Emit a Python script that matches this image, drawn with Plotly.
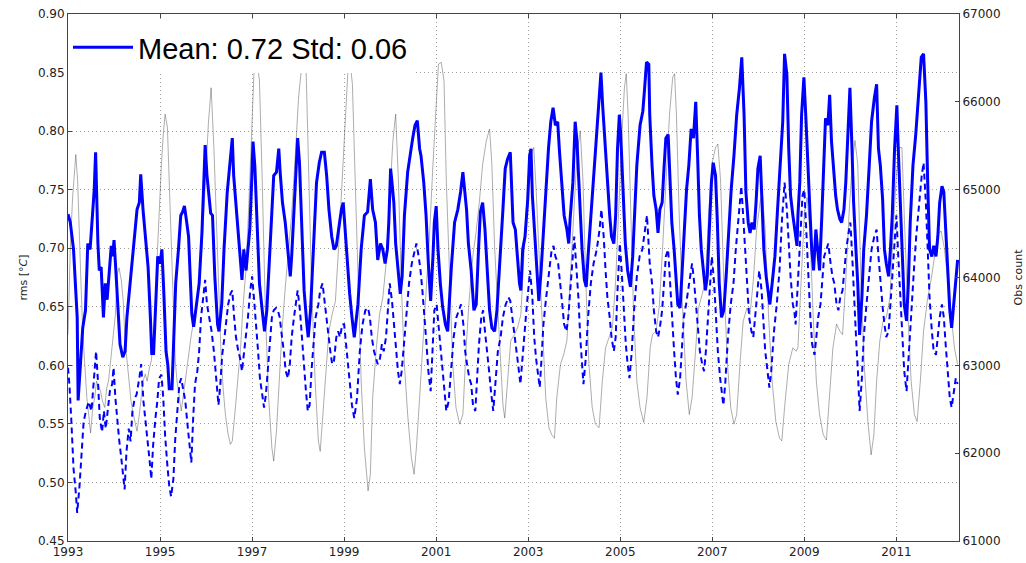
import plotly.graph_objects as go

# ---- rms (solid) ----
solid_t = [1993.00,1993.05,1993.12,1993.16,1993.20,1993.22,1993.27,1993.32,1993.38,1993.43,1993.48,1993.54,1993.57,1993.60,1993.62,1993.65,1993.68,1993.72,1993.77,1993.81,1993.85,1993.90,1993.94,1993.97,
1994.00,1994.04,1994.08,1994.13,1994.19,1994.24,1994.28,1994.35,1994.43,1994.50,1994.55,1994.58,1994.63,1994.68,1994.74,1994.79,1994.82,1994.86,1994.90,1994.95,
1995.00,1995.04,1995.08,1995.13,1995.17,1995.20,1995.26,1995.30,1995.34,1995.40,1995.45,1995.49,1995.53,1995.58,1995.62,1995.65,1995.69,1995.73,1995.80,1995.85,1995.91,1995.98,
1996.02,1996.05,1996.10,1996.14,1996.19,1996.25,1996.28,1996.34,1996.39,1996.46,1996.51,1996.57,1996.60,1996.65,1996.70,1996.75,1996.78,1996.82,1996.87,1996.91,1996.95,1996.99,
1997.02,1997.06,1997.11,1997.16,1997.22,1997.27,1997.32,1997.40,1997.47,1997.53,1997.58,1997.61,1997.66,1997.72,1997.78,1997.83,1997.86,1997.90,1997.95,1997.99,
1998.03,1998.08,1998.13,1998.19,1998.22,1998.27,1998.33,1998.40,1998.46,1998.51,1998.57,1998.62,1998.67,1998.73,1998.78,1998.83,1998.88,1998.94,1998.98,
1999.01,1999.07,1999.12,1999.17,1999.22,1999.30,1999.37,1999.44,1999.51,1999.57,1999.62,1999.68,1999.73,1999.79,1999.84,1999.89,1999.94,1999.97,
2000.01,2000.04,2000.08,2000.12,2000.17,2000.22,2000.26,2000.31,2000.38,2000.44,2000.49,2000.54,2000.59,2000.64,2000.67,2000.73,2000.78,2000.83,2000.88,2000.93,2000.96,
2001.00,2001.04,2001.09,2001.14,2001.20,2001.25,2001.33,2001.40,2001.47,2001.53,2001.58,2001.62,2001.66,2001.70,2001.76,2001.82,2001.87,2001.92,2001.96,
2002.01,2002.06,2002.11,2002.16,2002.21,2002.27,2002.32,2002.37,2002.40,2002.45,2002.50,2002.55,2002.61,2002.67,2002.72,2002.77,2002.81,2002.84,2002.88,2002.93,2002.99,
2003.03,2003.06,2003.09,2003.14,2003.19,2003.23,2003.28,2003.33,2003.38,2003.44,2003.49,2003.54,2003.59,2003.64,2003.68,2003.73,2003.78,2003.84,2003.88,2003.91,2003.97,
2004.02,2004.06,2004.09,2004.13,2004.17,2004.22,2004.26,2004.30,2004.36,2004.42,2004.48,2004.53,2004.58,2004.62,2004.67,2004.72,2004.77,2004.81,2004.86,2004.90,2004.94,2004.98,
2005.01,2005.06,2005.11,2005.16,2005.22,2005.27,2005.31,2005.36,2005.43,2005.49,2005.53,2005.57,2005.62,2005.64,2005.69,2005.73,2005.78,2005.82,2005.86,2005.91,2005.95,2005.99,
2006.04,2006.08,2006.12,2006.17,2006.21,2006.25,2006.30,2006.34,2006.39,2006.44,2006.49,2006.54,2006.59,2006.64,2006.68,2006.72,2006.76,2006.80,2006.85,2006.89,2006.93,2006.98,
2007.02,2007.07,2007.11,2007.15,2007.20,2007.25,2007.30,2007.36,2007.41,2007.47,2007.53,2007.59,2007.64,2007.69,2007.73,2007.78,2007.82,2007.86,2007.91,2007.95,2007.99,
2008.04,2008.08,2008.12,2008.17,2008.21,2008.25,2008.30,2008.36,2008.41,2008.47,2008.53,2008.57,2008.62,2008.66,2008.70,2008.75,2008.80,2008.84,2008.86,2008.90,2008.94,2008.99,
2009.03,2009.07,2009.12,2009.16,2009.20,2009.25,2009.29,2009.33,2009.38,2009.42,2009.46,2009.51,2009.55,2009.59,2009.64,2009.68,2009.72,2009.77,2009.81,2009.86,2009.90,2009.94,2009.99,
2010.03,2010.07,2010.12,2010.16,2010.20,2010.25,2010.29,2010.35,2010.41,2010.46,2010.52,2010.57,2010.61,2010.65,2010.70,2010.74,2010.78,2010.83,2010.87,2010.91,2010.96,
2011.01,2011.04,2011.09,2011.13,2011.17,2011.22,2011.26,2011.30,2011.36,2011.42,2011.48,2011.54,2011.59,2011.64,2011.68,2011.72,2011.77,2011.81,2011.86,2011.90,2011.94,2011.99,
2012.03,2012.07,2012.12,2012.16,2012.20,2012.25,2012.29,2012.33]
solid_v = [.729,.722,.699,.673,.641,.570,.600,.632,.647,.704,.699,.728,.750,.782,.745,.704,.681,.684,.641,.670,.656,.684,.702,.693,
.707,.681,.647,.618,.607,.612,.641,.670,.699,.733,.739,.763,.733,.707,.684,.641,.610,.610,.647,.693,
.687,.699,.664,.612,.600,.580,.580,.629,.670,.699,.728,.731,.736,.722,.710,.681,.644,.633,.652,.670,.713,.788,
.762,.750,.730,.728,.676,.635,.629,.652,.699,.748,.768,.794,.762,.739,.716,.693,.673,.699,.681,.699,.716,.756,
.791,.770,.713,.670,.647,.629,.647,.713,.762,.765,.785,.765,.739,.722,.699,.676,.693,.725,.756,.794,
.773,.716,.664,.635,.624,.647,.699,.756,.773,.782,.782,.762,.733,.710,.699,.702,.716,.733,.739,
.722,.693,.661,.641,.624,.652,.699,.728,.731,.759,.733,.722,.690,.704,.699,.687,.699,.722,
.768,.756,.739,.704,.679,.661,.676,.728,.765,.782,.794,.805,.809,.785,.779,.756,.728,.687,.655,.693,.722,
.736,.699,.670,.650,.635,.629,.684,.722,.733,.748,.765,.750,.733,.704,.681,.647,.652,.699,.731,
.739,.716,.681,.647,.632,.629,.647,.684,.700,.733,.768,.776,.782,.722,.716,.687,.670,.664,.699,.710,.742,
.779,.785,.745,.713,.681,.655,.681,.716,.750,.785,.808,.820,.805,.808,.782,.750,.728,.716,.704,.725,.756,
.808,.791,.765,.733,.699,.673,.667,.693,.728,.756,.791,.820,.850,.820,.788,.756,.728,.710,.704,.728,.785,.814,
.797,.750,.704,.681,.667,.693,.728,.771,.805,.817,.837,.859,.857,.814,.771,.745,.733,.713,.733,.739,.768,.794,
.797,.756,.722,.699,.673,.652,.649,.676,.713,.750,.771,.802,.794,.825,.779,.728,.699,.681,.664,.676,.710,.756,
.773,.762,.722,.670,.641,.647,.676,.722,.750,.779,.814,.837,.863,.814,.748,.722,.713,.722,.716,.739,.768,
.779,.739,.699,.676,.664,.652,.670,.693,.728,.768,.808,.866,.848,.785,.745,.728,.713,.702,.728,.756,.814,.846,
.814,.771,.733,.699,.681,.716,.699,.681,.728,.771,.811,.805,.831,.791,.762,.745,.733,.725,.722,.733,.756,.791,.837,
.791,.739,.699,.670,.626,.658,.699,.728,.771,.808,.828,.840,.785,.771,.742,.699,.687,.676,.699,.728,.785,
.822,.785,.728,.687,.652,.638,.670,.722,.771,.797,.828,.863,.866,.825,.756,.699,.693,.702,.693,.710,.739,.753,
.748,.716,.670,.647,.632,.652,.670,.690]

# ---- second rms series (dashed) ----
dash_t = [1993.00,1993.03,1993.07,1993.12,1993.17,1993.20,1993.25,1993.29,1993.34,1993.39,1993.45,1993.51,1993.56,1993.61,1993.65,1993.69,1993.74,1993.78,1993.82,1993.87,1993.91,1993.96,1993.99,
1994.03,1994.07,1994.11,1994.16,1994.20,1994.23,1994.27,1994.32,1994.36,1994.40,1994.45,1994.49,1994.55,1994.59,1994.64,1994.68,1994.72,1994.77,1994.81,1994.85,1994.90,1994.94,1994.98,
1995.03,1995.07,1995.11,1995.16,1995.20,1995.24,1995.29,1995.33,1995.37,1995.42,1995.46,1995.50,1995.55,1995.59,1995.63,1995.68,1995.72,1995.76,1995.81,1995.85,1995.89,1995.94,1995.98,
1996.02,1996.07,1996.12,1996.17,1996.22,1996.27,1996.31,1996.35,1996.40,1996.44,1996.48,1996.53,1996.57,1996.61,1996.65,1996.70,1996.74,1996.78,1996.83,1996.87,1996.91,1996.96,
1997.00,1997.04,1997.09,1997.13,1997.17,1997.22,1997.26,1997.30,1997.35,1997.39,1997.43,1997.47,1997.52,1997.56,1997.60,1997.65,1997.69,1997.73,1997.78,1997.82,1997.86,1997.91,1997.95,1997.99,
1998.04,1998.08,1998.12,1998.17,1998.21,1998.25,1998.29,1998.34,1998.38,1998.44,1998.48,1998.53,1998.57,1998.61,1998.65,1998.70,1998.74,1998.78,1998.83,1998.87,1998.91,1998.96,
1999.00,1999.04,1999.09,1999.13,1999.17,1999.22,1999.28,1999.34,1999.40,1999.46,1999.52,1999.56,1999.60,1999.65,1999.69,1999.73,1999.78,1999.82,1999.86,1999.91,1999.95,1999.99,
2000.04,2000.08,2000.12,2000.17,2000.21,2000.25,2000.30,2000.36,2000.41,2000.47,2000.53,2000.57,2000.62,2000.66,2000.70,2000.75,2000.79,2000.83,2000.88,2000.92,2000.96,
2001.01,2001.05,2001.09,2001.14,2001.18,2001.22,2001.27,2001.33,2001.38,2001.44,2001.50,2001.54,2001.59,2001.63,2001.67,2001.72,2001.76,2001.80,2001.85,2001.89,2001.93,2001.98,
2002.02,2002.06,2002.11,2002.15,2002.19,2002.24,2002.28,2002.34,2002.40,2002.45,2002.51,2002.57,2002.61,2002.65,2002.70,2002.74,2002.78,2002.83,2002.87,2002.91,2002.96,
2003.00,2003.04,2003.09,2003.13,2003.17,2003.22,2003.25,2003.29,2003.33,2003.39,2003.45,2003.51,2003.55,2003.59,2003.65,2003.70,2003.74,2003.78,2003.83,2003.87,2003.91,2003.96,
2004.00,2004.04,2004.09,2004.13,2004.17,2004.20,2004.25,2004.30,2004.36,2004.42,2004.49,2004.55,2004.59,2004.64,2004.68,2004.72,2004.77,2004.81,2004.86,2004.90,2004.94,2004.99,
2005.03,2005.07,2005.12,2005.16,2005.20,2005.25,2005.30,2005.36,2005.42,2005.48,2005.54,2005.58,2005.64,2005.69,2005.73,2005.78,2005.82,2005.86,2005.91,2005.95,2005.99,
2006.04,2006.08,2006.12,2006.17,2006.21,2006.25,2006.30,2006.34,2006.38,2006.43,2006.47,2006.51,2006.56,2006.60,2006.64,2006.69,2006.73,2006.78,2006.82,2006.86,2006.91,2006.95,2006.99,
2007.04,2007.08,2007.12,2007.17,2007.21,2007.24,2007.28,2007.34,2007.40,2007.46,2007.51,2007.57,2007.63,2007.67,2007.72,2007.76,2007.80,2007.85,2007.89,2007.93,2007.98,
2008.02,2008.07,2008.11,2008.15,2008.20,2008.24,2008.28,2008.34,2008.40,2008.46,2008.51,2008.57,2008.62,2008.66,2008.70,2008.75,2008.78,2008.81,2008.86,2008.91,2008.96,
2009.00,2009.04,2009.09,2009.13,2009.17,2009.22,2009.26,2009.30,2009.35,2009.39,2009.43,2009.48,2009.52,2009.57,2009.61,2009.65,2009.70,2009.74,2009.78,2009.83,2009.87,2009.91,2009.96,
2010.00,2010.04,2010.09,2010.13,2010.16,2010.20,2010.25,2010.29,2010.35,2010.41,2010.46,2010.52,2010.57,2010.61,2010.65,2010.70,2010.74,2010.78,2010.83,2010.87,2010.91,2010.96,
2011.00,2011.04,2011.09,2011.13,2011.17,2011.22,2011.26,2011.32,2011.38,2011.43,2011.49,2011.55,2011.59,2011.64,2011.68,2011.72,2011.77,2011.81,2011.86,2011.90,2011.94,2011.99,
2012.03,2012.07,2012.12,2012.16,2012.20,2012.25,2012.29,2012.33]
dash_v = [.598,.584,.555,.512,.491,.474,.497,.526,.552,.561,.569,.561,.584,.612,.587,.555,.543,.561,.546,.566,.578,.584,.598,
.572,.552,.537,.520,.503,.494,.526,.546,.535,.561,.572,.575,.589,.601,.569,.555,.537,.520,.503,.532,.555,.569,.589,
.592,.572,.540,.514,.497,.488,.503,.537,.561,.584,.589,.581,.569,.552,.537,.517,.555,.584,.595,.612,.641,.658,.673,
.652,.641,.629,.612,.589,.566,.584,.609,.624,.641,.652,.661,.664,.641,.624,.612,.606,.595,.612,.624,.641,.664,
.676,.658,.635,.612,.589,.572,.564,.575,.601,.624,.641,.647,.649,.647,.641,.624,.612,.595,.589,.601,.624,.641,.652,.664,
.647,.624,.601,.578,.561,.566,.595,.618,.641,.652,.664,.670,.655,.641,.629,.612,.601,.604,.624,.629,.624,.635,
.635,.618,.595,.578,.566,.555,.572,.612,.635,.647,.649,.641,.624,.612,.606,.601,.606,.618,.612,.624,.647,.670,
.655,.635,.612,.595,.584,.595,.618,.647,.670,.687,.699,.704,.693,.681,.664,.641,.618,.595,.578,.612,.647,
.652,.635,.612,.595,.575,.561,.569,.598,.624,.641,.647,.652,.635,.612,.601,.589,.584,.566,.561,.595,.618,.641,
.647,.629,.612,.595,.578,.561,.581,.612,.624,.641,.652,.658,.655,.641,.624,.612,.601,.584,.606,.624,.647,
.664,.681,.658,.624,.606,.589,.581,.606,.635,.658,.681,.699,.702,.693,.687,.670,.652,.635,.629,.641,.664,.687,
.710,.687,.658,.624,.595,.584,.606,.641,.670,.687,.699,.716,.733,.710,.681,.658,.641,.624,.612,.624,.664,.704,
.681,.647,.618,.601,.589,.612,.647,.676,.693,.699,.716,.728,.687,.670,.647,.629,.624,.632,.647,.670,.693,
.699,.670,.641,.612,.589,.575,.589,.618,.641,.652,.664,.676,.687,.673,.652,.629,.612,.601,.595,.612,.641,.670,.693,
.670,.641,.612,.589,.572,.566,.584,.624,.652,.670,.699,.728,.753,.728,.693,.664,.641,.629,.624,.641,.664,
.681,.664,.635,.612,.595,.581,.595,.629,.652,.681,.722,.756,.733,.704,.676,.652,.647,.635,.670,.716,.745,
.750,.716,.670,.641,.618,.609,.624,.641,.652,.676,.693,.699,.704,.687,.676,.670,.652,.647,.658,.664,.681,.699,.713,
.722,.693,.647,.618,.598,.561,.589,.624,.652,.676,.699,.710,.716,.693,.670,.650,.635,.624,.629,.652,.681,.710,
.728,.693,.652,.624,.595,.578,.606,.647,.681,.710,.739,.762,.773,.739,.699,.658,.629,.612,.609,.624,.641,.652,
.641,.618,.595,.572,.564,.578,.589,.584]

# ---- observation count (right axis) ----
obs_t = [1993.00,1993.05,1993.10,1993.17,1993.21,1993.24,1993.28,1993.32,1993.36,1993.41,1993.45,1993.49,1993.54,1993.58,1993.62,1993.67,1993.71,1993.75,1993.80,1993.84,1993.88,1993.94,1993.99,
1994.03,1994.07,1994.11,1994.16,1994.20,1994.24,1994.29,1994.33,1994.37,1994.42,1994.46,1994.50,1994.55,1994.59,1994.63,1994.68,1994.72,1994.77,1994.81,1994.85,1994.90,1994.94,1994.98,
1995.03,1995.07,1995.11,1995.16,1995.20,1995.24,1995.29,1995.33,1995.37,1995.42,1995.46,1995.50,1995.55,1995.59,1995.68,1995.76,1995.85,1995.91,1995.98,
1996.05,1996.11,1996.17,1996.22,1996.27,1996.32,1996.37,1996.42,1996.48,1996.53,1996.57,1996.61,1996.65,1996.70,1996.75,1996.80,1996.87,1996.92,1996.96,
1997.00,1997.04,1997.11,1997.16,1997.22,1997.29,1997.36,1997.43,1997.47,1997.53,1997.59,1997.65,1997.72,1997.79,1997.86,1997.94,
1998.01,1998.08,1998.12,1998.17,1998.22,1998.29,1998.37,1998.44,1998.48,1998.54,1998.60,1998.67,1998.74,1998.81,1998.88,1998.96,
1999.03,1999.09,1999.13,1999.18,1999.23,1999.30,1999.37,1999.44,1999.52,1999.57,1999.62,1999.70,1999.77,1999.84,1999.91,1999.99,
2000.06,2000.12,2000.18,2000.24,2000.31,2000.38,2000.46,2000.52,2000.57,2000.64,2000.71,2000.78,2000.86,2000.93,
2001.00,2001.05,2001.11,2001.17,2001.22,2001.29,2001.36,2001.43,2001.51,2001.58,2001.65,2001.72,2001.80,2001.87,2001.94,
2002.01,2002.09,2002.16,2002.21,2002.27,2002.34,2002.41,2002.45,2002.49,2002.55,2002.62,2002.70,2002.77,2002.84,2002.91,2002.99,
2003.06,2003.12,2003.17,2003.23,2003.30,2003.38,2003.45,2003.51,2003.57,2003.62,2003.70,2003.77,2003.84,2003.91,2003.99,
2004.06,2004.13,2004.19,2004.25,2004.32,2004.39,2004.46,2004.54,2004.61,2004.68,2004.75,2004.83,2004.90,2004.97,
2005.04,2005.09,2005.13,2005.17,2005.23,2005.29,2005.36,2005.43,2005.51,2005.58,2005.65,2005.70,2005.78,2005.85,2005.92,2005.99,
2006.07,2006.14,2006.18,2006.22,2006.28,2006.36,2006.43,2006.50,2006.56,2006.63,2006.70,2006.78,2006.85,2006.92,2006.99,
2007.07,2007.12,2007.18,2007.25,2007.33,2007.40,2007.47,2007.53,2007.60,2007.67,2007.75,2007.82,2007.89,2007.96,
2008.04,2008.09,2008.15,2008.22,2008.30,2008.38,2008.46,2008.51,2008.57,2008.66,2008.75,2008.82,2008.86,2008.93,
2009.00,2009.06,2009.12,2009.19,2009.26,2009.33,2009.41,2009.48,2009.55,2009.62,2009.70,2009.77,2009.83,2009.90,2009.97,
2010.04,2010.10,2010.16,2010.23,2010.30,2010.38,2010.45,2010.51,2010.57,2010.64,2010.71,2010.78,2010.86,2010.93,
2011.00,2011.07,2011.12,2011.17,2011.25,2011.32,2011.39,2011.45,2011.52,2011.59,2011.68,2011.75,2011.83,2011.90,2011.97,
2012.04,2012.12,2012.19,2012.26,2012.33]
obs_v = [63350,64340,64910,65400,65100,64530,63960,63390,63010,62630,62440,62230,62520,62630,62820,62740,62700,62590,62520,62740,62820,63120,63390,
63580,64040,64110,63960,63730,63280,63010,62820,62590,62440,62330,62250,62440,62630,62820,62900,62820,62970,63050,63280,63730,64260,64800,
65290,65630,65860,65710,65100,64340,63580,63050,62820,62590,62480,62630,62820,63010,63350,63580,63960,64340,65100,
65750,66160,65480,64720,63960,63200,62740,62440,62210,62100,62140,62330,62590,62900,63200,63650,64110,64720,65290,
65860,66320,66450,66240,65100,63580,62630,62060,61910,62250,62820,63390,63880,64260,64720,65400,
66050,66420,66450,66430,65290,63960,62820,62140,62020,62440,62900,63390,63580,63730,64340,65100,
65860,66430,66450,66200,65290,63960,62820,62060,61570,61760,62630,63200,63580,63770,64150,64910,
65560,65860,65100,63960,63010,62440,61950,61760,62060,62630,63200,63770,64530,65290,
66050,66430,66450,66240,65100,63960,63010,62520,62330,62440,63200,63770,64260,64530,64870,
65290,65560,65690,65290,64340,63580,62820,62550,62400,62820,63280,63350,63430,63580,64340,65100,
65400,65480,65020,64340,63390,62630,62290,62210,62170,62630,63010,63120,63280,63960,64720,
65400,65670,65100,63960,63010,62520,62330,62290,62820,63200,63310,63430,63960,64910,
65670,66160,66320,65860,64720,63580,62820,62520,62350,62630,63200,63350,63390,63690,64340,65100,
65860,66280,66320,65860,64720,63580,62820,62440,62630,63120,63650,63810,63960,64720,65290,
65480,65520,65100,63960,63010,62520,62330,62440,63010,63500,63650,63580,63960,64530,
64870,64950,64530,63580,62820,62360,62170,62140,62520,63010,63200,63160,63200,63960,
64720,64910,64530,63580,62820,62440,62210,62150,62630,63200,63470,63390,63350,63960,64720,
65290,65560,65290,63960,63010,62360,61980,62210,62820,63280,63500,63540,63770,64530,
65180,65480,65480,64720,63580,62820,62440,62360,62820,63390,63770,63960,64260,64490,64530,
64340,63960,63580,63200,63010]

year_ticks = [1993, 1995, 1997, 1999, 2001, 2003, 2005, 2007, 2009, 2011]
rms_ticks = [0.45, 0.50, 0.55, 0.60, 0.65, 0.70, 0.75, 0.80, 0.85, 0.90]
obs_ticks = [61000, 62000, 63000, 64000, 65000, 66000, 67000]
legend_label = "Mean: 0.72 Std: 0.06"

tickfont = dict(family="DejaVu Sans", size=12, color="#222222")
axcol = "#444444"
gridcol = "#a0a0a0"
griddash = "1px,3px"

fig = go.Figure()
fig.add_trace(go.Scatter(x=obs_t, y=obs_v, mode="lines", yaxis="y",
                         line=dict(color="rgba(60,60,60,0.42)", width=1),
                         showlegend=False, hoverinfo="skip"))
fig.add_trace(go.Scatter(x=dash_t, y=dash_v, mode="lines", yaxis="y2",
                         line=dict(color="#0000ff", width=2, dash="6px,4px"),
                         showlegend=False))
fig.add_trace(go.Scatter(x=solid_t, y=solid_v, mode="lines", yaxis="y2",
                         line=dict(color="#0000ff", width=3),
                         name=legend_label, showlegend=True))

fig.update_layout(
    width=1026, height=563,
    margin=dict(l=68, r=67, t=14, b=22),
    paper_bgcolor="white", plot_bgcolor="white",
    xaxis=dict(range=[1993, 2012.36], tickmode="array", tickvals=year_ticks,
               ticktext=[str(y) for y in year_ticks], tickfont=tickfont,
               showgrid=True, gridcolor=gridcol, griddash=griddash, gridwidth=1,
               showline=True, linecolor=axcol, linewidth=1, mirror="ticks",
               ticks="inside", ticklen=4, tickcolor=axcol, zeroline=False,
               ticklabelstandoff=0, automargin=False),
    yaxis=dict(range=[61000, 67000], side="right", tickmode="array",
               tickvals=obs_ticks, ticktext=[str(v) for v in obs_ticks],
               tickfont=tickfont, showgrid=False, showline=True,
               linecolor=axcol, linewidth=1, ticks="inside", ticklen=4,
               tickcolor=axcol, zeroline=False, automargin=False,
               title=dict(text="Obs count", font=dict(family="DejaVu Sans", size=11, color="#222222"),
                          standoff=14)),
    yaxis2=dict(range=[0.45, 0.90], side="left", overlaying="y", tickmode="array",
                tickvals=rms_ticks, ticktext=["%.2f" % v for v in rms_ticks],
                tickfont=tickfont, showgrid=True, gridcolor=gridcol, griddash=griddash,
                gridwidth=1, showline=True, linecolor=axcol, linewidth=1,
                ticks="inside", ticklen=4, tickcolor=axcol, zeroline=False,
                automargin=False,
                title=dict(text="rms [°<i>C</i>]", font=dict(family="DejaVu Sans", size=11, color="#222222"),
                           standoff=8)),
    legend=dict(x=0.0, y=0.985, xanchor="left", yanchor="top",
                bgcolor="white", borderwidth=0,
                font=dict(family="Liberation Sans, Arial", size=29, color="black"),
                itemwidth=60),
)

fig.write_html("out.html")
